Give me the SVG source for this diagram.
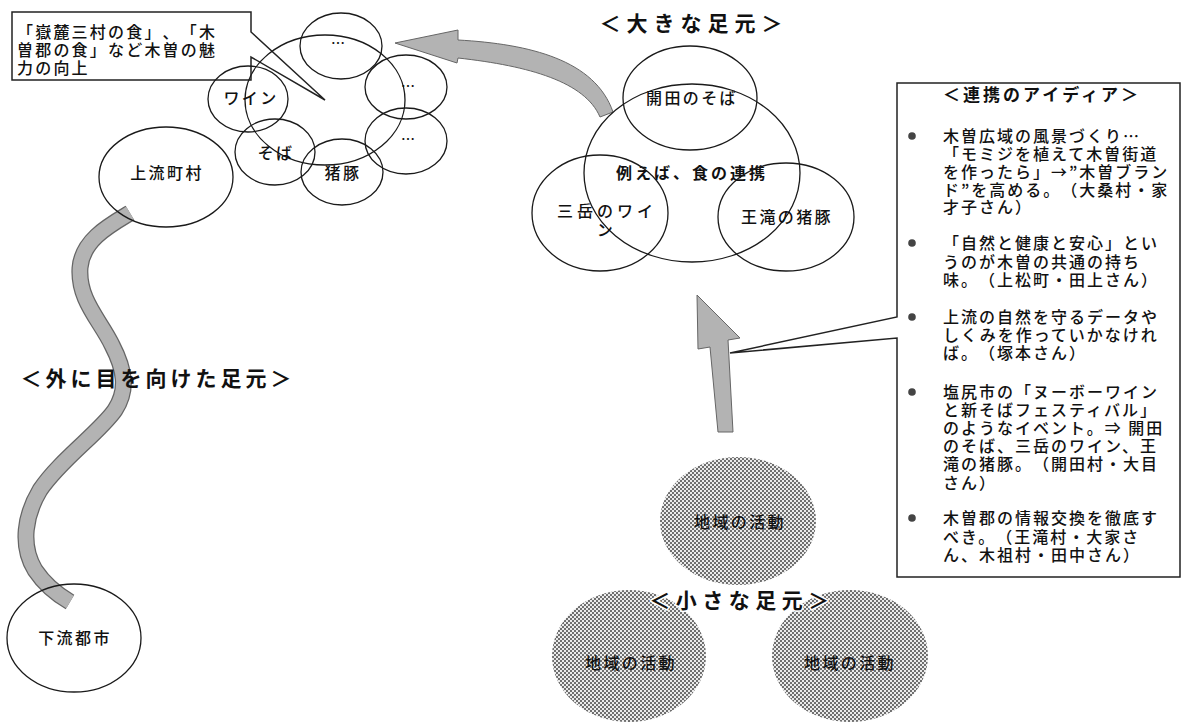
<svg xmlns="http://www.w3.org/2000/svg" width="1184" height="725" viewBox="0 0 1184 725">
<style>
  text { font-family: "Noto Sans CJK JP", "Noto Sans", sans-serif; fill: #111; font-weight: 500; text-spacing-trim: space-all; }
  .lbl { font-size: 16px; letter-spacing: 2.4px; text-anchor: middle; }
  .head { font-size: 21px; font-weight: bold; letter-spacing: 4px; text-anchor: middle; }
  .box { font-size: 16px; letter-spacing: 2px; }
  .call { font-size: 16px; letter-spacing: 2.2px; }
  .dots { font-size: 14px; text-anchor: middle; }
  .halo { stroke: #ffffff; stroke-width: 3; paint-order: stroke; }
  .ring { fill: none; stroke: #1a1a1a; stroke-width: 1.3; }
  .dotted { fill: url(#dotpat); stroke: none; }
  .gray { fill: #b3b3b3; stroke: #666; stroke-width: 1; }
  .frame { fill: none; stroke: #222; stroke-width: 1.5; }
</style>
<defs>
  <pattern id="dotpat" width="4" height="4" patternUnits="userSpaceOnUse">
    <rect width="4" height="4" fill="#ebebeb"/>
    <circle cx="1" cy="1" r="0.95" fill="#3a3a3a"/>
    <circle cx="3" cy="3" r="0.95" fill="#3a3a3a"/>
  </pattern>
</defs>
<rect width="1184" height="725" fill="#ffffff"/>

<g id="connectors">
  <path d="M130,213 C110,225 82,240 80,268 C78,300 100,320 112,345 C125,370 128,390 115,410 C100,432 60,460 40,490 C25,515 20,545 35,570 C45,585 58,595 70,602" fill="none" stroke="#666" stroke-width="17"/>
  <path d="M130,213 C110,225 82,240 80,268 C78,300 100,320 112,345 C125,370 128,390 115,410 C100,432 60,460 40,490 C25,515 20,545 35,570 C45,585 58,595 70,602" fill="none" stroke="#b3b3b3" stroke-width="14.5"/>
  <path class="gray" d="M395,43 L458,30 L458,40 C530,44 595,60 613,112 L600,117 C585,82 530,66 458,58 L457,63 Z"/>
  <path class="gray" d="M697,295 L740,338 L728,340 L733,432 L718,432 L710,347 L698,349 Z"/>
</g>

<g id="callout-topleft">
  <path class="frame" d="M251,32 V12 H12 V80 H251 V57 L325,100 Z"/>
  <text class="call" x="17" y="38">「嶽麓三村の食」、「木</text>
  <text class="call" x="17" y="56">曽郡の食」など木曽の魅</text>
  <text class="call" x="17" y="74">力の向上</text>
</g>

<g id="cluster-center">
  <ellipse class="ring" cx="325" cy="100" rx="80" ry="65"/>
</g>
<g id="node-dots-top">
  <ellipse class="ring" cx="341" cy="46" rx="41" ry="33"/>
  <text class="dots" x="338" y="48">…</text>
</g>
<g id="node-dots-right1">
  <ellipse class="ring" cx="406" cy="87" rx="41" ry="32"/>
  <text class="dots" x="408" y="91">…</text>
</g>
<g id="node-dots-right2">
  <ellipse class="ring" cx="406" cy="141" rx="41" ry="33"/>
  <text class="dots" x="408" y="144">…</text>
</g>
<g id="node-wine">
  <ellipse class="ring" cx="248" cy="99" rx="40" ry="33"/>
  <text class="lbl" x="251" y="104">ワイン</text>
</g>
<g id="node-soba">
  <ellipse class="ring" cx="275" cy="152" rx="40" ry="33"/>
  <text class="lbl" x="276" y="159">そば</text>
</g>
<g id="node-pork">
  <ellipse class="ring" cx="342" cy="172" rx="41" ry="33"/>
  <text class="lbl" x="343" y="179">猪豚</text>
</g>

<g id="node-upstream">
  <ellipse class="ring" cx="166" cy="177" rx="67" ry="50"/>
  <text class="lbl" x="167" y="179">上流町村</text>
</g>
<g id="node-downstream">
  <ellipse class="ring" cx="74" cy="638" rx="67" ry="54"/>
  <text class="lbl" x="75" y="644">下流都市</text>
</g>
<g id="label-outward">
  <text class="head" x="158" y="386">＜外に目を向けた足元＞</text>
</g>

<g id="label-big">
  <text class="head" x="694" y="31" style="letter-spacing:6px">＜大きな足元＞</text>
</g>
<g id="node-food">
  <ellipse class="ring" cx="692" cy="173" rx="108" ry="89"/>
  <text class="lbl" x="692" y="179" style="font-weight:bold;letter-spacing:3px">例えば、食の連携</text>
</g>
<g id="node-kaida">
  <ellipse class="ring" cx="690" cy="98" rx="67" ry="52"/>
  <text class="lbl" x="692" y="104">開田のそば</text>
</g>
<g id="node-mitake">
  <ellipse class="ring" cx="600" cy="213" rx="68" ry="58"/>
  <text class="lbl" x="607" y="217" style="letter-spacing:4px">三岳のワイ</text>
  <text class="lbl" x="606" y="236">ン</text>
</g>
<g id="node-otaki">
  <ellipse class="ring" cx="786" cy="217" rx="68" ry="54"/>
  <text class="lbl" x="787" y="223">王滝の猪豚</text>
</g>

<g id="node-local1">
  <ellipse class="dotted" cx="738" cy="521" rx="78" ry="64"/>
  <text class="lbl" x="740" y="528">地域の活動</text>
</g>
<g id="node-local2">
  <ellipse class="dotted" cx="629" cy="656" rx="77" ry="66"/>
  <text class="lbl" x="631" y="669">地域の活動</text>
</g>
<g id="node-local3">
  <ellipse class="dotted" cx="850" cy="656" rx="78" ry="66"/>
  <text class="lbl" x="850" y="669">地域の活動</text>
</g>
<g id="label-small">
  <text class="head halo" x="742" y="608" style="letter-spacing:5.5px">＜小さな足元＞</text>
</g>

<g id="ideas-box">
  <path class="frame" d="M897,317 V83 H1180 V577 H897 V338 L730,353 Z"/>
  <text class="box" x="943" y="101" style="font-weight:bold;font-size:17px;letter-spacing:3px">＜連携のアイディア＞</text>
  <g fill="#444">
    <circle cx="912" cy="136" r="3.8"/>
    <circle cx="912" cy="243" r="3.8"/>
    <circle cx="912" cy="317" r="3.8"/>
    <circle cx="912" cy="392" r="3.8"/>
    <circle cx="912" cy="518" r="3.8"/>
  </g>
  <text class="box" x="943" y="142">木曽広域の風景づくり…</text>
  <text class="box" x="943" y="160">「モミジを植えて木曽街道</text>
  <text class="box" x="943" y="178">を作ったら」→”木曽ブラン</text>
  <text class="box" x="943" y="196">ド”を高める。（大桑村・家</text>
  <text class="box" x="943" y="213">才子さん）</text>
  <text class="box" x="943" y="249">「自然と健康と安心」とい</text>
  <text class="box" x="943" y="268">うのが木曽の共通の持ち</text>
  <text class="box" x="943" y="286">味。（上松町・田上さん）</text>
  <text class="box" x="943" y="323">上流の自然を守るデータや</text>
  <text class="box" x="943" y="341">しくみを作っていかなけれ</text>
  <text class="box" x="943" y="359">ば。（塚本さん）</text>
  <text class="box" x="943" y="398">塩尻市の「ヌーボーワイン</text>
  <text class="box" x="943" y="416">と新そばフェスティバル」</text>
  <text class="box" x="943" y="434">のようなイベント。⇒ 開田</text>
  <text class="box" x="943" y="452">のそば、三岳のワイン、王</text>
  <text class="box" x="943" y="470">滝の猪豚。（開田村・大目</text>
  <text class="box" x="943" y="489">さん）</text>
  <text class="box" x="943" y="524">木曽郡の情報交換を徹底す</text>
  <text class="box" x="943" y="543">べき。（王滝村・大家さ</text>
  <text class="box" x="943" y="561">ん、木祖村・田中さん）</text>
</g>
</svg>
